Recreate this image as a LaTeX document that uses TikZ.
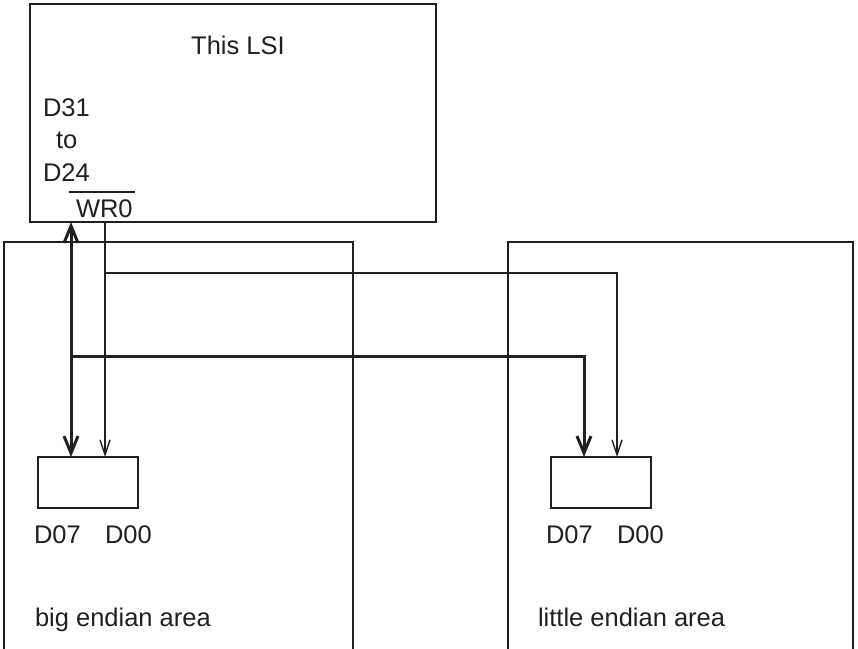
\documentclass[tikz,border=0pt]{standalone}
\usepackage{fontspec}
\setmainfont{Liberation Sans}
\usetikzlibrary{arrows.meta}
\definecolor{ink}{HTML}{231F20}
\tikzset{
  bustip/.tip={Straight Barb[length=17bp,width=14bp]},
  sigtip/.tip={Straight Barb[length=15bp,width=10bp]},
}
\begin{document}
\begin{tikzpicture}[x=1bp,y=-1bp,
  every node/.style={inner sep=0pt, outer sep=0pt, text=ink},
  txt/.style={anchor=base west, font=\fontsize{25.5bp}{30bp}\selectfont},
  chip/.style={draw=ink, line width=2.6bp, rectangle},
  cell/.style={draw=ink, line width=2.2bp, rectangle, minimum width=100bp, minimum height=51bp},
  area/.style={draw=ink, line width=1.3bp},
  busline/.style={draw=ink, line width=3bp},
  sigline/.style={draw=ink, line width=1.4bp}]
\useasboundingbox (0,0) rectangle (858,649);

% memory areas (open at the bottom edge)
\draw[area] (4,652) -- (4,242) -- (353,242) -- (353,652);
\draw[area] (508,652) -- (508,242) -- (853,242) -- (853,652);

% LSI
\node[chip, minimum width=406bp, minimum height=218bp] (lsi) at (233,113) {};
\node[txt, anchor=base] (title) at (238,55) {This LSI};
\node[txt] (d31) at (43,117) {D31};
\node[txt] (to) at (56,149) {to};
\node[txt] (d24) at (43,181) {D24};
\node[txt] (wr) at (76,217) {WR0};
\draw[ink, line width=1.5bp] (69,192) -- (135,192);

% byte cells
\node[cell] (bl) at (88,482.5) {};
\node[cell] (lb) at (601,482.5) {};
\node[txt] (bd7) at (34,543) {D07};
\node[txt] (bd0) at (105,543) {D00};
\node[txt] (ld7) at (546,543) {D07};
\node[txt] (ld0) at (617,543) {D00};
\node[txt] (bigl) at (35,626) {big endian area};
\node[txt] (littl) at (538,626) {little endian area};

% junctions
\coordinate (jbus) at (71,356);
\coordinate (jsig) at (105,273);

% data bus
\draw[busline, bustip-bustip] (71,0 |- lsi.south) -- (71,0 |- bl.north);
\draw[busline, -bustip] (jbus) -- (584,356) -- (584,0 |- lb.north);

% WR0 signal
\draw[sigline, -sigtip] (105,0 |- lsi.south) -- (105,0 |- bl.north);
\draw[sigline, -sigtip] (jsig) -- (617,273) -- (617,0 |- lb.north);
\end{tikzpicture}
\end{document}
